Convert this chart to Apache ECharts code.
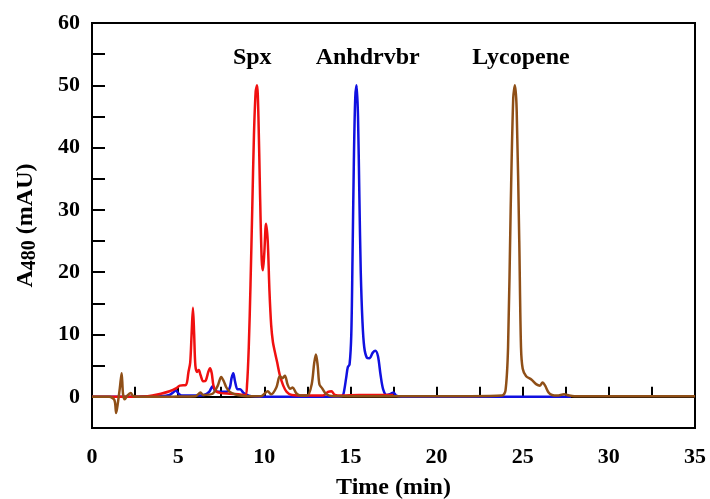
<!DOCTYPE html>
<html>
<head>
<meta charset="utf-8">
<script src="https://cdn.jsdelivr.net/npm/echarts@6/dist/echarts.min.js"></script>
<style>html,body{margin:0;padding:0;background:#fff}#c{width:710px;height:499px}</style>
</head>
<body>
<div id="c"></div>
<script>
// Spx (red) trace: [time (min), A480 (mAU)]
var spxTrace = [[0,0],[1,0],[2,0.02],[3,0.05],[3.5,0.2],[4.0,0.5],[4.5,0.9],[4.9,1.4],[5.1,1.8],[5.45,1.9],[5.6,4],[5.7,5.5],[5.78,10],[5.86,14.3],[5.93,10],[6.0,5],[6.1,4.0],[6.2,4.3],[6.3,3.5],[6.45,2.5],[6.6,2.6],[6.75,4.0],[6.85,4.6],[6.95,3.8],[7.05,1.8],[7.2,0.9],[7.5,0.6],[8.0,0.5],[8.5,0.4],[8.9,0.3],[9.0,2],[9.1,8],[9.2,18],[9.3,30],[9.4,42],[9.5,49],[9.58,50],[9.66,45],[9.75,33],[9.85,22],[9.92,20.3],[10.0,23],[10.1,27.8],[10.2,25],[10.3,17],[10.4,11.5],[10.5,8.8],[10.6,7.4],[10.75,5.5],[10.9,3.5],[11.1,1.8],[11.3,0.8],[11.6,0.3],[12.5,0.2],[13.4,0.2],[13.7,0.8],[13.9,0.9],[14.1,0.3],[14.5,0.2],[15.5,0.3],[16.5,0.3],[17.5,0.3]];
// Anhydrorhodovibrin (blue) trace
var anhTrace = [[0,0],[1,0],[2,0],[3,0.05],[4,0.1],[4.5,0.3],[4.75,0.8],[4.85,1.1],[5.0,0.6],[5.2,0.2],[6.0,0.2],[6.5,0.3],[6.8,0.8],[7.0,1.7],[7.15,1.0],[7.4,0.8],[7.8,0.8],[8.0,1.5],[8.1,3],[8.2,3.8],[8.3,2.5],[8.45,1.2],[8.6,1.2],[8.8,0.6],[9.1,0.2],[9.5,0.05],[10,0],[11,0],[12,0],[13,0],[14,0],[14.5,0.1],[14.6,0.5],[14.75,3],[14.85,4.8],[14.95,5.2],[15.05,10],[15.12,22],[15.2,38],[15.28,48],[15.36,50],[15.44,45],[15.52,32],[15.6,20],[15.7,12],[15.8,8],[15.95,6.3],[16.1,6.2],[16.3,7.1],[16.45,7.4],[16.6,6.5],[16.75,3.5],[16.9,1.2],[17.1,0.3],[17.35,0.5],[17.5,0.7],[17.65,0.2],[18,0],[20,0],[22,0],[24,0],[26,0],[27.8,0]];
// Lycopene (brown) trace
var lycTrace = [[0,0],[1.0,0],[1.3,-0.5],[1.4,-2.6],[1.5,-1.0],[1.62,1.5],[1.72,3.8],[1.8,0.5],[1.9,-0.4],[2.05,0.2],[2.25,0.6],[2.4,0.1],[3,0],[4,0],[5,0.05],[6.0,0.1],[6.2,0.5],[6.3,0.7],[6.45,0.3],[7.0,0.5],[7.3,1.8],[7.5,3.2],[7.65,2.5],[7.8,1.5],[8.0,0.8],[8.3,0.4],[8.6,0.2],[9,0.1],[9.8,0.1],[10.2,0.9],[10.4,0.4],[10.7,1.5],[10.9,3.3],[11.05,3.0],[11.2,3.4],[11.35,2.0],[11.5,1.3],[11.65,1.5],[11.85,0.6],[12.1,0.2],[12.5,0.2],[12.75,2],[12.9,5.5],[13.0,6.8],[13.1,5],[13.2,2],[13.35,1.4],[13.6,0.4],[14,0.1],[16,0.1],[18,0.1],[20,0.1],[22,0.1],[23.8,0.2],[24.0,1],[24.15,8],[24.3,30],[24.45,48],[24.55,50],[24.65,46],[24.8,25],[24.9,8],[25.0,4.5],[25.2,3.3],[25.5,2.8],[25.8,2.0],[26.0,1.8],[26.15,2.3],[26.3,1.8],[26.5,0.7],[26.7,0.3],[27,0.2],[27.4,0.4],[27.7,0.2],[28,0.1],[35,0.1]];
// peak annotations
var peakNames = ['Spx','Anhdrvbr','Lycopene'];
var peakTimes = [9.3, 16.0, 24.9];
var peakLabelHeights = [54.4, 54.4, 54.4];
var xTicks = {min:0, max:35, step:2.5, labelEvery:5};
var yTicks = {min:-5, max:60, step:5, labelEvery:10};

var FONT = '"Liberation Serif","DejaVu Serif",serif';
var chart = echarts.init(document.getElementById('c'), null, {renderer:'canvas'});

var labelData = peakNames.map(function(n,i){ return {name:n, value:[peakTimes[i], peakLabelHeights[i]]}; });

chart.setOption({
  animation:false,
  backgroundColor:'#fff',
  grid:{left:92, right:15, top:23, bottom:71, outerBoundsMode:'none', containLabel:false,
    show:true, borderColor:'#000', borderWidth:2, backgroundColor:'transparent'},
  xAxis:{type:'value', min:xTicks.min, max:xTicks.max, interval:xTicks.step,
    name:'Time (min)', nameLocation:'middle', nameGap:48,
    nameTextStyle:{fontFamily:FONT, fontWeight:'bold', fontSize:24, color:'#000'},
    axisLine:{lineStyle:{color:'#000', width:2}},
    axisTick:{inside:true, length:10, lineStyle:{color:'#000', width:2}},
    axisLabel:{margin:18, fontFamily:FONT, fontWeight:'bold', fontSize:22, color:'#000',
      formatter:function(v){return (Math.abs(v % xTicks.labelEvery) < 1e-9) ? String(v) : '';}},
    splitLine:{show:false}},
  yAxis:{type:'value', min:yTicks.min, max:yTicks.max, interval:yTicks.step,
    name:'{a|A}{s|480}{a| (mAU)}', nameLocation:'middle', nameGap:52,
    nameTextStyle:{fontFamily:FONT, fontWeight:'bold', fontSize:24, color:'#000',
      rich:{a:{fontFamily:FONT, fontWeight:'bold', fontSize:24, color:'#000'},
            s:{fontFamily:FONT, fontWeight:'bold', fontSize:20, color:'#000', padding:[8,0,0,0]}}},
    axisLine:{lineStyle:{color:'#000', width:2}},
    axisTick:{inside:true, length:13, lineStyle:{color:'#000', width:2}},
    axisLabel:{margin:12, fontFamily:FONT, fontWeight:'bold', fontSize:22, color:'#000',
      formatter:function(v){return (v % yTicks.labelEvery === 0 && v >= 0) ? String(v) : '';}},
    splitLine:{show:false}},
  series:[
    {type:'line', name:'Anhdrvbr', data:anhTrace, showSymbol:false, smooth:0.3, z:2,
      lineStyle:{color:'#1010e0', width:2.5}, itemStyle:{color:'#1010e0'}},
    {type:'line', name:'Spx', data:spxTrace, showSymbol:false, smooth:0.3, z:3,
      lineStyle:{color:'#f01010', width:2.5}, itemStyle:{color:'#f01010'}},
    {type:'line', name:'Lycopene', data:lycTrace, showSymbol:false, smooth:0.3, z:4,
      lineStyle:{color:'#8f4f17', width:2.5}, itemStyle:{color:'#8f4f17'}},
    {type:'scatter', name:'labels', data:labelData, symbolSize:0, silent:true, z:5,
      itemStyle:{color:'#000', opacity:1},
      label:{show:true, position:'inside', formatter:'{b}', color:'#000', opacity:1, fontFamily:FONT, fontWeight:'bold', fontSize:24}}
  ]
});
</script>
</body>
</html>
